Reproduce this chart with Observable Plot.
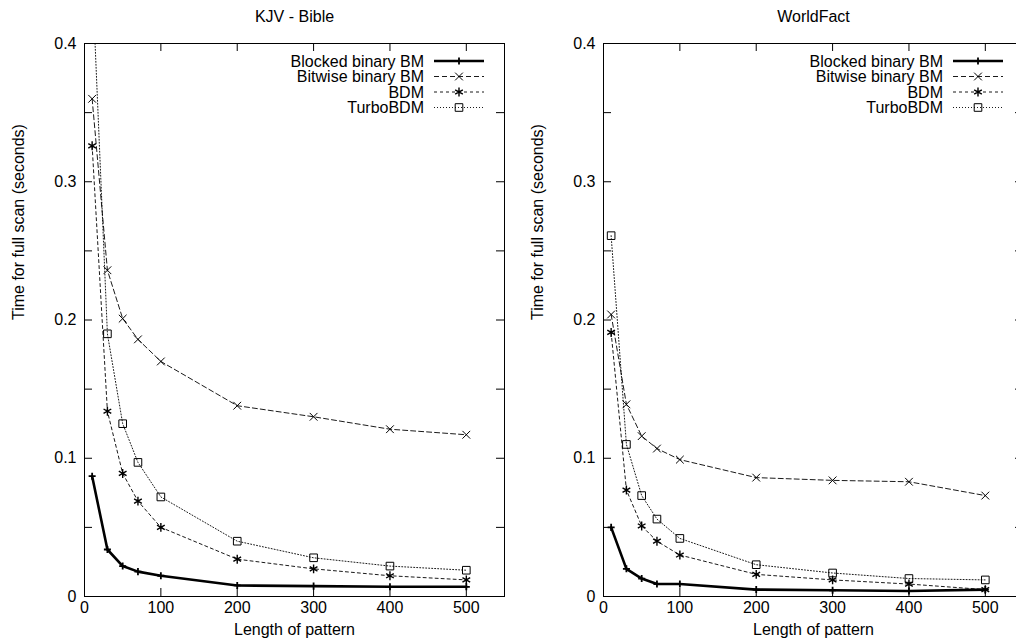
<!DOCTYPE html>
<html><head><meta charset="utf-8">
<script src="https://cdn.jsdelivr.net/npm/d3@7"></script>
<script src="https://cdn.jsdelivr.net/npm/@observablehq/plot@0.6"></script>
<style>
html,body{margin:0;padding:0;background:#fff;overflow:hidden;}
#wrap{position:relative;width:1016px;height:639px;overflow:hidden;background:#fff;}
.panel{position:absolute;top:0;width:520px;height:639px;}
.panel svg{max-width:none !important;}
</style></head><body><div id="wrap"></div>
<script>
// ---- data ----
const lengths = [10, 30, 50, 70, 100, 200, 300, 400, 500];
const seriesNames = ["Blocked binary BM", "Bitwise binary BM", "BDM", "TurboBDM"];
const panelTitles = ["KJV - Bible", "WorldFact"];

const kjvBlocked = [0.087, 0.034, 0.022, 0.018, 0.015, 0.008, 0.0075, 0.007, 0.007];
const kjvBitwise = [0.360, 0.236, 0.201, 0.186, 0.170, 0.138, 0.130, 0.121, 0.117];
const kjvBDM     = [0.326, 0.134, 0.089, 0.069, 0.050, 0.027, 0.020, 0.015, 0.012];
const kjvTurbo   = [0.450, 0.190, 0.125, 0.097, 0.072, 0.040, 0.028, 0.022, 0.019];

const wfBlocked = [0.050, 0.020, 0.013, 0.009, 0.009, 0.005, 0.0045, 0.004, 0.005];
const wfBitwise = [0.204, 0.139, 0.116, 0.107, 0.099, 0.086, 0.084, 0.083, 0.073];
const wfBDM     = [0.191, 0.077, 0.051, 0.040, 0.030, 0.016, 0.012, 0.009, 0.005];
const wfTurbo   = [0.261, 0.110, 0.073, 0.056, 0.042, 0.023, 0.017, 0.013, 0.012];

const xTicks = [0, 100, 200, 300, 400, 500];
const yTickLabels = [0, 0.1, 0.2, 0.3, 0.4];
const yTicksAll = [0, 0.05, 0.1, 0.15, 0.2, 0.25, 0.3, 0.35, 0.4];
const xDomain = [0, 550];
const yDomain = [0, 0.4];
const xLabel = "Length of pattern";
const yLabel = "Time for full scan (seconds)";

// ---- styles ----
const FONT = "'Liberation Sans', Arial, Helvetica, sans-serif";
const FS = 16;
const styles = [
  {symbol: "plus",     d3sym: d3.symbolPlus,     r: 2.4, lw: 2.6, dash: null,  sw: 1.8},
  {symbol: "times",    d3sym: d3.symbolTimes,    r: 3.6, lw: 0.9, dash: "5,3", sw: 1},
  {symbol: "asterisk", d3sym: d3.symbolAsterisk, r: 4.2, lw: 0.9, dash: "3,3", sw: 1.4},
  {symbol: "square",   d3sym: d3.symbolSquare,   r: 4.3, lw: 0.9, dash: "1,2", sw: 1}
];

function makePanel(title, seriesValues, leftPx) {
  const W = 520, H = 639, mL = 84, mR = 16, mT = 43, mB = 43;
  const pw = W - mL - mR, ph = H - mT - mB;
  const marks = [Plot.frame({stroke: "#000", strokeWidth: 1})];
  // inward ticks, mirrored on all sides
  marks.push(Plot.tickX(xTicks, {x: d => d, insetTop: ph - 8, stroke: "#000"}));
  marks.push(Plot.tickX(xTicks, {x: d => d, insetBottom: ph - 8, stroke: "#000"}));
  marks.push(Plot.tickY(yTicksAll, {y: d => d, insetRight: pw - 8, stroke: "#000"}));
  marks.push(Plot.tickY(yTicksAll, {y: d => d, insetLeft: pw - 8, stroke: "#000"}));
  marks.push(Plot.axisX(xTicks, {tickSize: 0, tickPadding: 5, label: null, fontSize: FS}));
  marks.push(Plot.axisY(yTickLabels, {tickSize: 0, tickPadding: 8, label: null, fontSize: FS, tickFormat: d => String(d)}));
  seriesNames.forEach((s, i) => {
    const st = styles[i];
    const rows = lengths.map((x, j) => ({x, y: seriesValues[i][j]}));
    marks.push(Plot.line(rows, {x: "x", y: "y", stroke: "#000", strokeWidth: st.lw,
      strokeDasharray: st.dash, clip: true}));
    marks.push(Plot.dot(rows, {x: "x", y: "y", symbol: st.symbol, r: st.r, fill: "none",
      stroke: "#000", strokeWidth: st.sw, clip: true}));
  });
  marks.push(Plot.text([xLabel], {frameAnchor: "bottom", dy: 38, text: d => d, fontSize: FS, fill: "#000"}));
  marks.push(Plot.text([yLabel], {frameAnchor: "left", dx: -66, rotate: -90, text: d => d, fontSize: FS, fill: "#000"}));
  marks.push(Plot.text([title], {frameAnchor: "top", dy: -33, text: d => d, fontSize: FS, fill: "#000"}));

  const svg = Plot.plot({
    width: W, height: H, marginLeft: mL, marginRight: mR, marginTop: mT, marginBottom: mB,
    x: {domain: xDomain}, y: {domain: yDomain},
    style: {fontFamily: FONT, fontSize: FS + "px", color: "#000", background: "transparent", overflow: "visible", maxWidth: "none"},
    marks
  });
  // legend
  const g = d3.select(svg).append("g").attr("font-family", FONT).attr("font-size", FS);
  seriesNames.forEach((s, i) => {
    const st = styles[i];
    const y = mT + 18 + i * 15.5;
    g.append("text").attr("x", mL + 340).attr("y", y).attr("text-anchor", "end")
      .attr("dy", "0.35em").attr("fill", "#000").text(s);
    g.append("line").attr("x1", mL + 350).attr("x2", mL + 400).attr("y1", y).attr("y2", y)
      .attr("stroke", "#000").attr("stroke-width", st.lw)
      .attr("stroke-dasharray", st.dash);
    g.append("path").attr("transform", `translate(${mL + 375},${y})`)
      .attr("d", d3.symbol(st.d3sym, Math.PI * st.r * st.r)())
      .attr("fill", "none").attr("stroke", "#000").attr("stroke-width", st.sw);
  });
  const div = document.createElement("div");
  div.className = "panel";
  div.style.left = leftPx + "px";
  div.appendChild(svg);
  document.getElementById("wrap").appendChild(div);
}

makePanel(panelTitles[0], [kjvBlocked, kjvBitwise, kjvBDM, kjvTurbo], 0);
makePanel(panelTitles[1], [wfBlocked, wfBitwise, wfBDM, wfTurbo], 519);
</script></body></html>
